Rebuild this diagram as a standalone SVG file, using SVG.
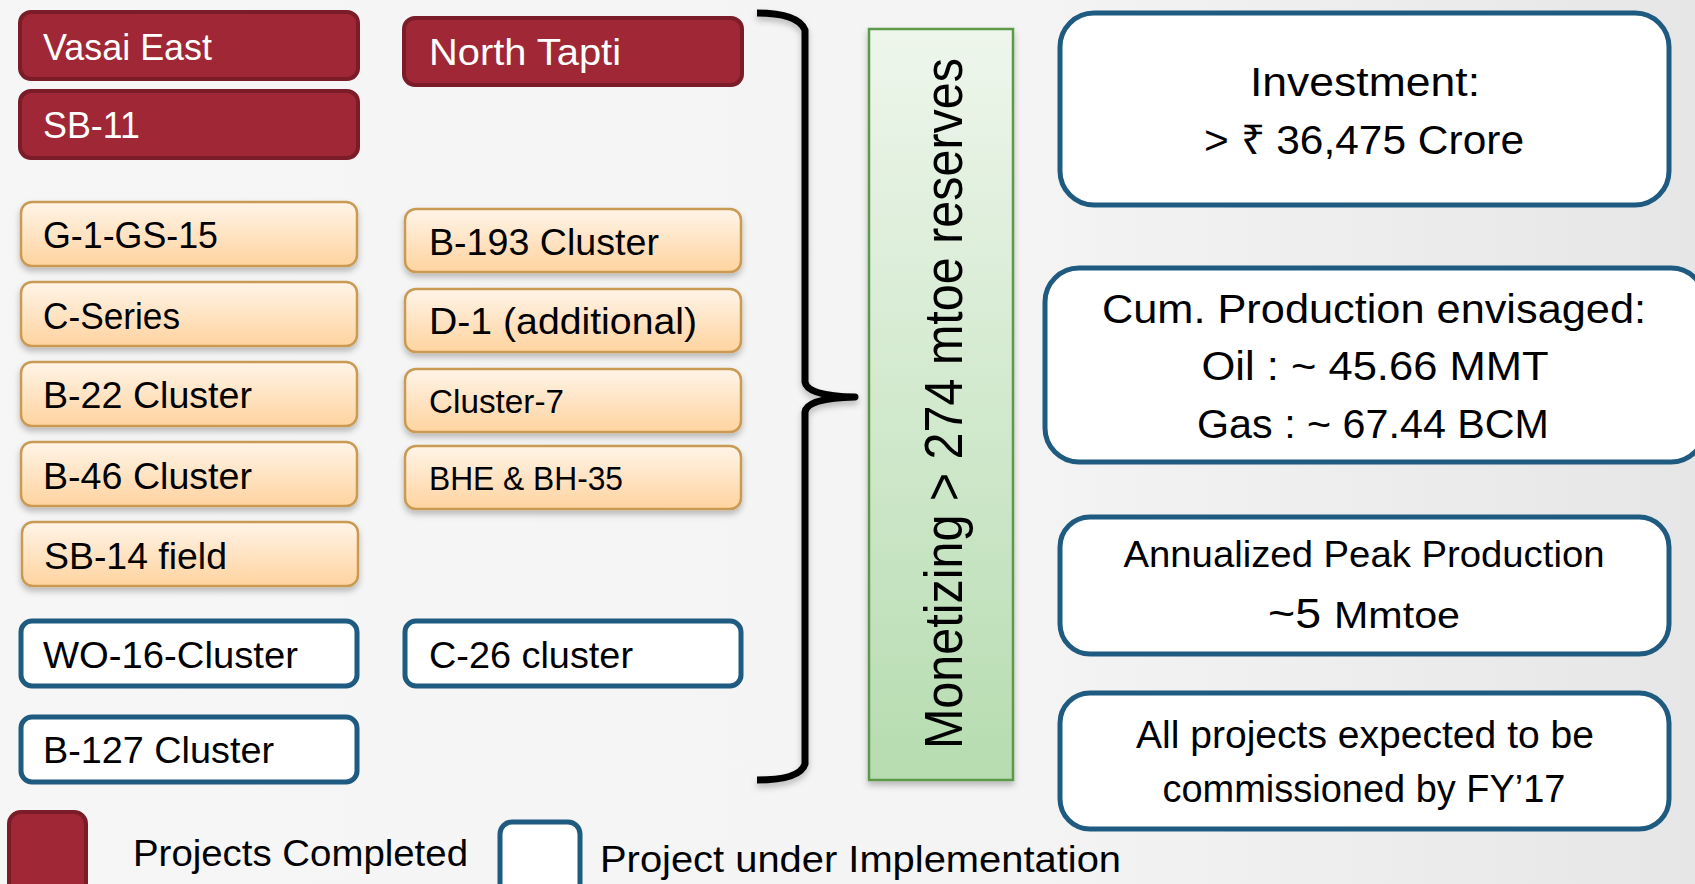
<svg xmlns="http://www.w3.org/2000/svg" width="1695" height="884" viewBox="0 0 1695 884">
<defs>
<linearGradient id="bg" x1="0" y1="0" x2="1" y2="0">
<stop offset="0" stop-color="#f6f6f6"/>
<stop offset="0.6" stop-color="#f4f4f4"/>
<stop offset="1" stop-color="#e6e6e6"/>
</linearGradient>
<linearGradient id="orange" x1="0" y1="0" x2="0" y2="1">
<stop offset="0" stop-color="#fff4e8"/>
<stop offset="1" stop-color="#ffd39f"/>
</linearGradient>
<linearGradient id="green" x1="0" y1="0" x2="0" y2="1">
<stop offset="0" stop-color="#eef6ec"/>
<stop offset="1" stop-color="#b6dcb0"/>
</linearGradient>
<filter id="sh" x="-10%" y="-10%" width="120%" height="140%">
<feDropShadow dx="0" dy="4" stdDeviation="3" flood-color="#000" flood-opacity="0.25"/>
</filter>
</defs>
<style>
.red{fill:#a02735;stroke:#7a1d28;stroke-width:4}
.org{fill:url(#orange);stroke:#c99a52;stroke-width:2.5}
.wht{fill:#fff;stroke:#1f5b80;stroke-width:5}
.big{fill:#fff;stroke:#1f5b80;stroke-width:5}
text{font-family:"Liberation Sans",Arial,sans-serif;fill:#000}
.w{fill:#fff}
.t36{font-size:37px}
.ctr{text-anchor:middle}
.brace{fill:none;stroke:#000;stroke-width:7;stroke-linecap:butt;stroke-linejoin:round}
</style>
<rect x="0" y="0" width="1695" height="884" fill="url(#bg)"/>

<g id="connectors">
<path class="brace" filter="url(#sh)" d="M757,13 Q798,13 805,30 L805,382 Q807,396 855,397 Q807,398 805,412 L805,764 Q800,780 757,780"/>
</g>

<g id="vasai-east"><rect class="red" x="20" y="12" width="338" height="67" rx="11"/><text class="w t36" x="43" y="60" textLength="169" lengthAdjust="spacingAndGlyphs">Vasai East</text></g>
<g id="sb-11"><rect class="red" x="20" y="91" width="338" height="67" rx="11"/><text class="w t36" x="43" y="138" textLength="97" lengthAdjust="spacingAndGlyphs">SB-11</text></g>
<g id="north-tapti"><rect class="red" x="404" y="18" width="338" height="67" rx="11"/><text class="w t36" x="429" y="65" textLength="192" lengthAdjust="spacingAndGlyphs">North Tapti</text></g>

<g id="g-1-gs-15"><rect class="org" filter="url(#sh)" x="21" y="202" width="336" height="64" rx="11"/><text class="t36" x="43" y="248" textLength="175" lengthAdjust="spacingAndGlyphs">G-1-GS-15</text></g>
<g id="c-series"><rect class="org" filter="url(#sh)" x="21" y="282" width="336" height="64" rx="11"/><text class="t36" x="43" y="329" textLength="137" lengthAdjust="spacingAndGlyphs">C-Series</text></g>
<g id="b-22-cluster"><rect class="org" filter="url(#sh)" x="21" y="362" width="336" height="64" rx="11"/><text class="t36" x="43" y="408" textLength="209" lengthAdjust="spacingAndGlyphs">B-22 Cluster</text></g>
<g id="b-46-cluster"><rect class="org" filter="url(#sh)" x="21" y="442" width="336" height="64" rx="11"/><text class="t36" x="43" y="489" textLength="209" lengthAdjust="spacingAndGlyphs">B-46 Cluster</text></g>
<g id="sb-14-field"><rect class="org" filter="url(#sh)" x="22" y="522" width="336" height="64" rx="11"/><text class="t36" x="44" y="569" textLength="183" lengthAdjust="spacingAndGlyphs">SB-14 field</text></g>

<g id="b-193-cluster"><rect class="org" filter="url(#sh)" x="405" y="209" width="336" height="63" rx="11"/><text class="t36" x="429" y="255" textLength="230" lengthAdjust="spacingAndGlyphs">B-193 Cluster</text></g>
<g id="d-1-additional"><rect class="org" filter="url(#sh)" x="405" y="289" width="336" height="63" rx="11"/><text class="t36" x="429" y="334" textLength="268" lengthAdjust="spacingAndGlyphs">D-1 (additional)</text></g>
<g id="cluster-7"><rect class="org" filter="url(#sh)" x="405" y="369" width="336" height="63" rx="11"/><text x="429" y="413" font-size="34" textLength="135" lengthAdjust="spacingAndGlyphs">Cluster-7</text></g>
<g id="bhe-bh-35"><rect class="org" filter="url(#sh)" x="405" y="446" width="336" height="63" rx="11"/><text x="429" y="490" font-size="33" textLength="194" lengthAdjust="spacingAndGlyphs">BHE &amp; BH-35</text></g>

<g id="wo-16-cluster"><rect class="wht" x="21" y="621" width="336" height="65" rx="11"/><text class="t36" x="43" y="668" textLength="255" lengthAdjust="spacingAndGlyphs">WO-16-Cluster</text></g>
<g id="b-127-cluster"><rect class="wht" x="21" y="717" width="336" height="65" rx="11"/><text class="t36" x="43" y="763" textLength="231" lengthAdjust="spacingAndGlyphs">B-127 Cluster</text></g>
<g id="c-26-cluster"><rect class="wht" x="405" y="621" width="336" height="65" rx="11"/><text class="t36" x="429" y="668" textLength="204" lengthAdjust="spacingAndGlyphs">C-26 cluster</text></g>

<g id="monetizing"><rect filter="url(#sh)" x="869" y="29" width="144" height="751" fill="url(#green)" stroke="#5b9a48" stroke-width="2.5"/><text transform="translate(962,749) rotate(-90)" x="0" y="0" font-size="54" textLength="691" lengthAdjust="spacingAndGlyphs">Monetizing &gt; 274 mtoe reserves</text></g>

<g id="investment"><rect class="big" x="1060" y="13" width="609" height="192" rx="34"/><text class="ctr" x="1365" y="96" font-size="41" textLength="230" lengthAdjust="spacingAndGlyphs">Investment:</text><text class="ctr" x="1364" y="154" font-size="41" textLength="320" lengthAdjust="spacingAndGlyphs">&gt; ₹ 36,475 Crore</text></g>
<g id="cum-production"><rect class="big" x="1045" y="268" width="660" height="194" rx="34"/><text class="ctr" x="1374" y="323" font-size="41" textLength="544" lengthAdjust="spacingAndGlyphs">Cum. Production envisaged:</text><text class="ctr" x="1375" y="380" font-size="41" textLength="347" lengthAdjust="spacingAndGlyphs">Oil : ~ 45.66 MMT</text><text class="ctr" x="1373" y="438" font-size="41" textLength="352" lengthAdjust="spacingAndGlyphs">Gas : ~ 67.44 BCM</text></g>
<g id="annualized-peak"><rect class="big" x="1060" y="517" width="609" height="137" rx="30"/><text class="ctr" x="1364" y="567" font-size="36" textLength="481" lengthAdjust="spacingAndGlyphs">Annualized Peak Production</text><text x="1268" y="628" font-size="43" textLength="53" lengthAdjust="spacingAndGlyphs">~5</text><text x="1334" y="628" font-size="36" textLength="126" lengthAdjust="spacingAndGlyphs">Mmtoe</text></g>
<g id="commissioning"><rect class="big" x="1060" y="693" width="609" height="136" rx="30"/><text class="ctr" x="1365" y="748" font-size="38" textLength="458" lengthAdjust="spacingAndGlyphs">All projects expected to be</text><text class="ctr" x="1364" y="802" font-size="38" textLength="403" lengthAdjust="spacingAndGlyphs">commissioned by FY’17</text></g>

<g id="legend-completed"><rect x="9" y="812" width="77" height="90" rx="12" fill="#a02735" stroke="#7a1d28" stroke-width="4"/><text x="133" y="866" font-size="37" textLength="335" lengthAdjust="spacingAndGlyphs">Projects Completed</text></g>
<g id="legend-implementation"><rect x="500" y="822" width="80" height="80" rx="12" fill="#fff" stroke="#1f5b80" stroke-width="5"/><text x="600" y="872" font-size="37" textLength="521" lengthAdjust="spacingAndGlyphs">Project under Implementation</text></g>
</svg>
